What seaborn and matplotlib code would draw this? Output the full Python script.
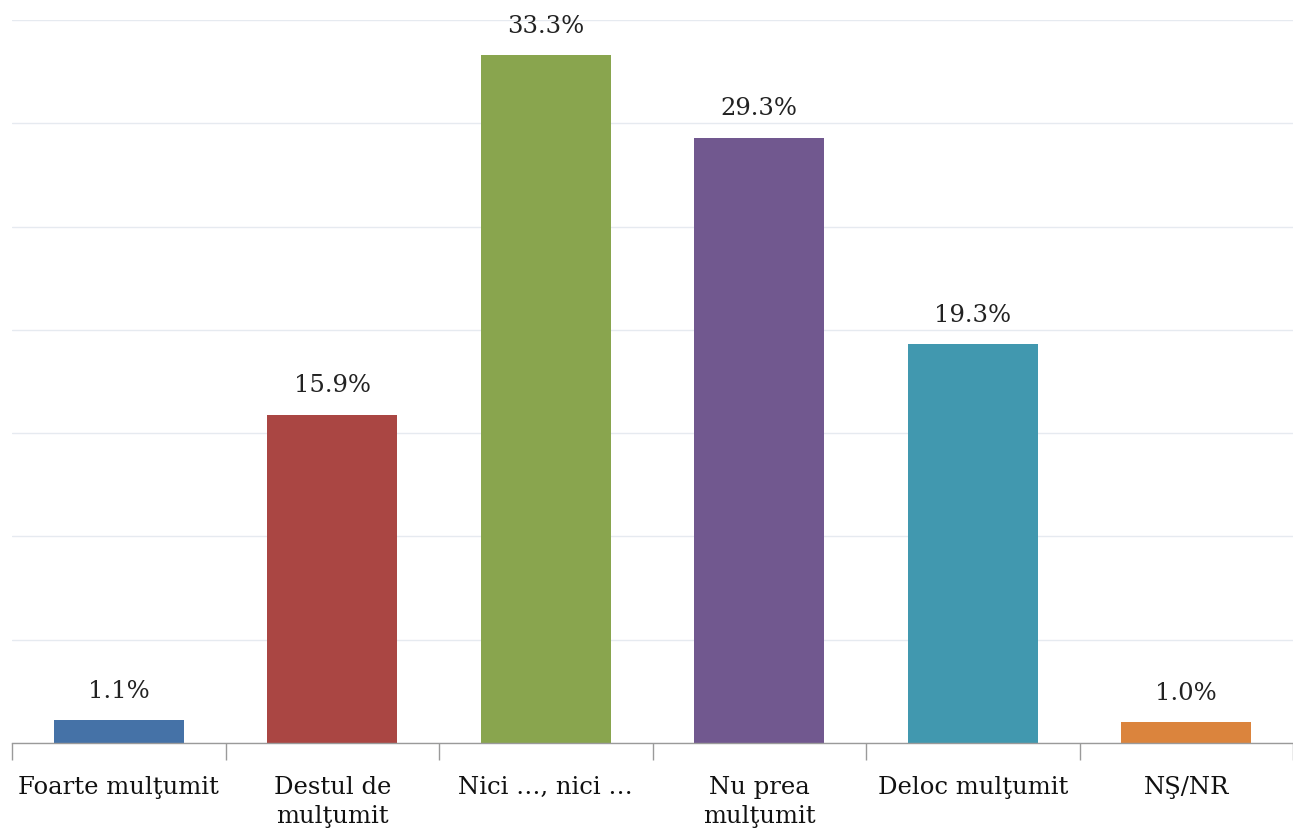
import matplotlib
matplotlib.use("Agg")
import matplotlib.pyplot as plt
import seaborn as sns
import pandas as pd

# Datele din grafic
categorii = ["Foarte mulţumit", "Destul de\nmulţumit", "Nici …, nici …",
             "Nu prea\nmulţumit", "Deloc mulţumit", "NŞ/NR"]
procente = [1.1, 15.9, 33.3, 29.3, 19.3, 1.0]
culori = ["#4572A7", "#AA4643", "#89A54E", "#71588F", "#4198AF", "#DB843D"]

df = pd.DataFrame({"categorie": categorii, "procent": procente})

sns.set_theme(style="white")
plt.rcParams["font.family"] = ["DejaVu Serif"]

fig = plt.figure(figsize=(12.93, 8.39), dpi=100)
ax = fig.add_axes([12 / 1293, 96 / 839, 1 - 12 / 1293, 723 / 839])

sns.barplot(data=df, x="categorie", y="procent", hue="categorie",
            palette=culori, width=0.61, legend=False, ax=ax, saturation=1,
            linewidth=0)

# Etichete deasupra barelor
for i, v in enumerate(procente):
    ax.text(i, v + 0.85, f"{v:.1f}%", ha="center", va="bottom", fontsize=17.5, color="#222222")

ax.set_ylim(0, 35)
ax.set_xlim(-0.5, -0.5 + 1281 / 214.7)
ax.set_yticks(range(0, 36, 5))
ax.set_yticklabels([])
ax.tick_params(axis="y", length=0)
ax.yaxis.grid(True, color="#E6EAF0", linewidth=1.0)
ax.set_axisbelow(True)

# Ticks la limitele categoriilor
ax.set_xticks([i for i in range(6)])
ax.set_xticklabels(categorii, fontsize=17.5, color="#111111", linespacing=1.3, va="top")
ax.set_xticks([i - 0.5 for i in range(7)], minor=True)
ax.tick_params(axis="x", which="major", length=0, pad=24)
ax.tick_params(axis="x", which="minor", length=12, width=1, color="#9A9A9A", direction="out", bottom=True)

for s in ["top", "right", "left"]:
    ax.spines[s].set_visible(False)
ax.spines["bottom"].set_color("#9A9A9A")
ax.spines["bottom"].set_linewidth(1)
ax.set_xlabel("")
ax.set_ylabel("")

fig.savefig("out.png", dpi=100)
